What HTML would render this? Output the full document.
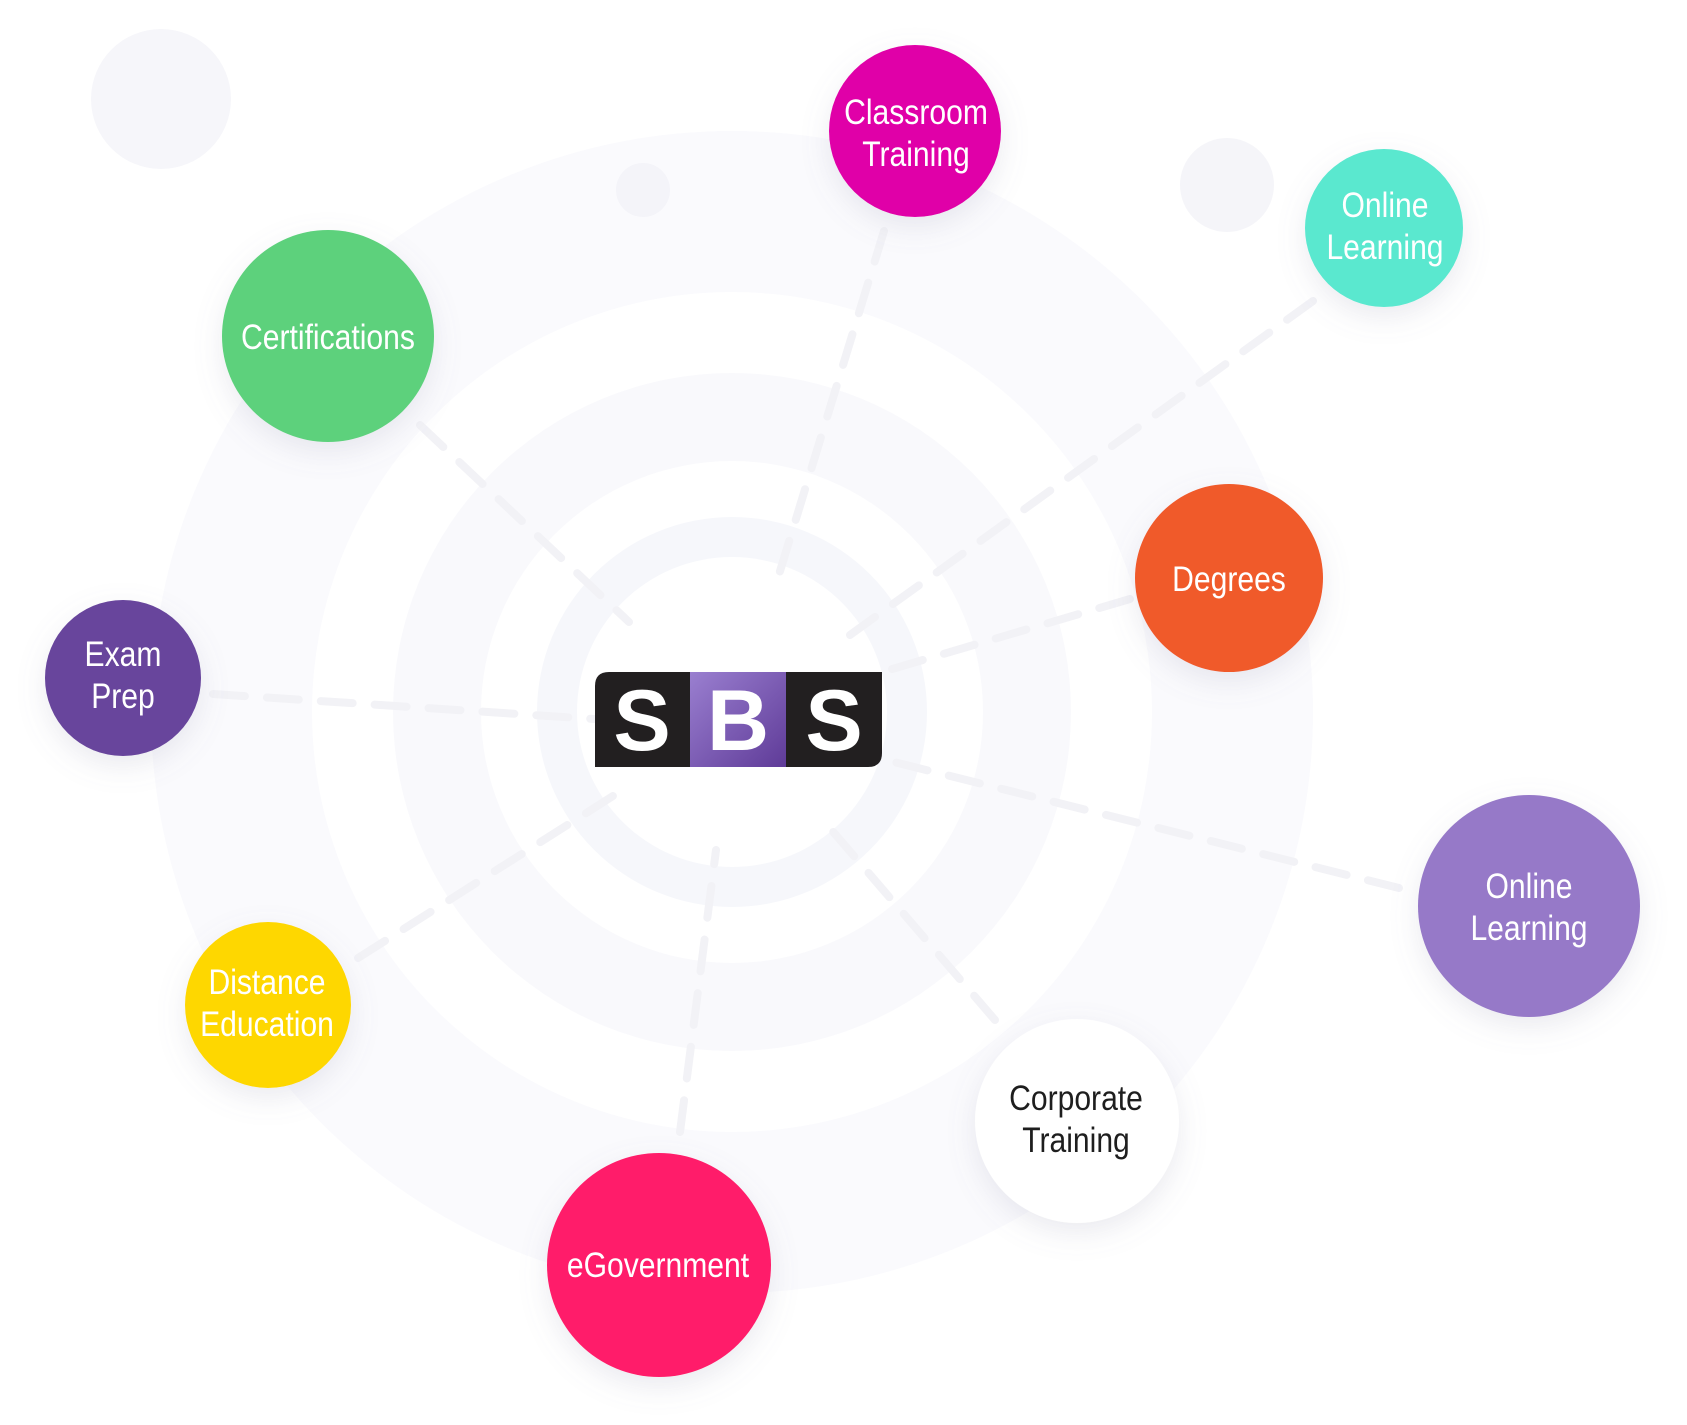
<!DOCTYPE html>
<html><head><meta charset="utf-8"><style>
html,body{margin:0;padding:0;background:#fff;}
svg{display:block}
text{font-family:"Liberation Sans Narrow","Liberation Sans",sans-serif;}
text.l{transform-box:fill-box;transform-origin:center;transform:scaleX(0.86);}
</style></head><body>
<svg width="1687" height="1425" viewBox="0 0 1687 1425" xmlns="http://www.w3.org/2000/svg">
<defs>
<filter id="sh" x="-50%" y="-50%" width="200%" height="200%"><feDropShadow dx="0" dy="10" stdDeviation="14" flood-color="#8080a0" flood-opacity="0.16"/></filter>
<linearGradient id="pg" x1="0" y1="0" x2="1" y2="1"><stop offset="0" stop-color="#9a7fd0"/><stop offset="1" stop-color="#5f3b98"/></linearGradient>
</defs>
<circle cx="732" cy="712" r="581" fill="#fafafd"/>
<circle cx="732" cy="712" r="420" fill="#ffffff"/>
<circle cx="732" cy="712" r="339" fill="#f9f9fc"/>
<circle cx="732" cy="712" r="251" fill="#ffffff"/>
<circle cx="732" cy="712" r="195" fill="#f6f7fb"/>
<circle cx="732" cy="712" r="155" fill="#ffffff"/>
<circle cx="161" cy="99" r="70" fill="#f6f6fa"/>
<circle cx="643" cy="190" r="27" fill="#f4f4f9"/>
<circle cx="1227" cy="185" r="47" fill="#f5f5f9"/>
<g stroke="#f2f2f6" stroke-width="8" stroke-dasharray="32 22" stroke-linecap="round" fill="none">
<line x1="420" y1="425" x2="629" y2="622"/>
<line x1="884" y1="231" x2="777" y2="581"/>
<line x1="1313" y1="301" x2="850" y2="635"/>
<line x1="1130" y1="599" x2="882" y2="672"/>
<line x1="213" y1="694" x2="594" y2="719"/>
<line x1="1399" y1="888" x2="882" y2="759"/>
<line x1="358" y1="958" x2="613" y2="796"/>
<line x1="680" y1="1132" x2="716" y2="850"/>
<line x1="995" y1="1020" x2="823" y2="820"/>
</g>
<path d="M609 672 H882 V753 Q882 767 868 767 H595 V686 Q595 672 609 672 Z" fill="#221f20"/>
<rect x="690" y="672" width="96" height="95" fill="url(#pg)"/>
<g font-weight="bold" font-size="86" fill="#fff" text-anchor="middle" style="font-family:'Liberation Sans',sans-serif">
<text x="642" y="750" style="font-family:'Liberation Sans',sans-serif">S</text><text x="738" y="750" style="font-family:'Liberation Sans',sans-serif">B</text><text x="834" y="750" style="font-family:'Liberation Sans',sans-serif">S</text>
</g>
<g filter="url(#sh)">
<circle cx="915" cy="131" r="86" fill="#e000a8"/>
<circle cx="1384" cy="228" r="79" fill="#5ae8cf"/>
<circle cx="328" cy="336" r="106" fill="#5dd17c"/>
<circle cx="1229" cy="578" r="94" fill="#f05a2c"/>
<circle cx="123" cy="678" r="78" fill="#67449c"/>
<circle cx="1529" cy="906" r="111" fill="#9679c8"/>
<circle cx="268" cy="1005" r="83" fill="#fed700"/>
<circle cx="1077" cy="1121" r="102" fill="#ffffff"/>
<circle cx="659" cy="1265" r="112" fill="#ff1f6b"/>
</g>
<g font-size="35" fill="#fff" text-anchor="middle">
<text class="l" x="916" y="124">Classroom</text><text class="l" x="916" y="166">Training</text>
<text class="l" x="1385" y="217">Online</text><text class="l" x="1385" y="259">Learning</text>
<text class="l" x="328" y="349">Certifications</text>
<text class="l" x="1229" y="591">Degrees</text>
<text class="l" x="123" y="666">Exam</text><text class="l" x="123" y="708">Prep</text>
<text class="l" x="1529" y="898">Online</text><text class="l" x="1529" y="940">Learning</text>
<text class="l" x="267" y="994">Distance</text><text class="l" x="267" y="1036">Education</text>
<text class="l" x="1076" y="1110" fill="#1e1e1e">Corporate</text><text class="l" x="1076" y="1152" fill="#1e1e1e">Training</text>
<text class="l" x="658" y="1277">eGovernment</text>
</g>
</svg>
</body></html>
